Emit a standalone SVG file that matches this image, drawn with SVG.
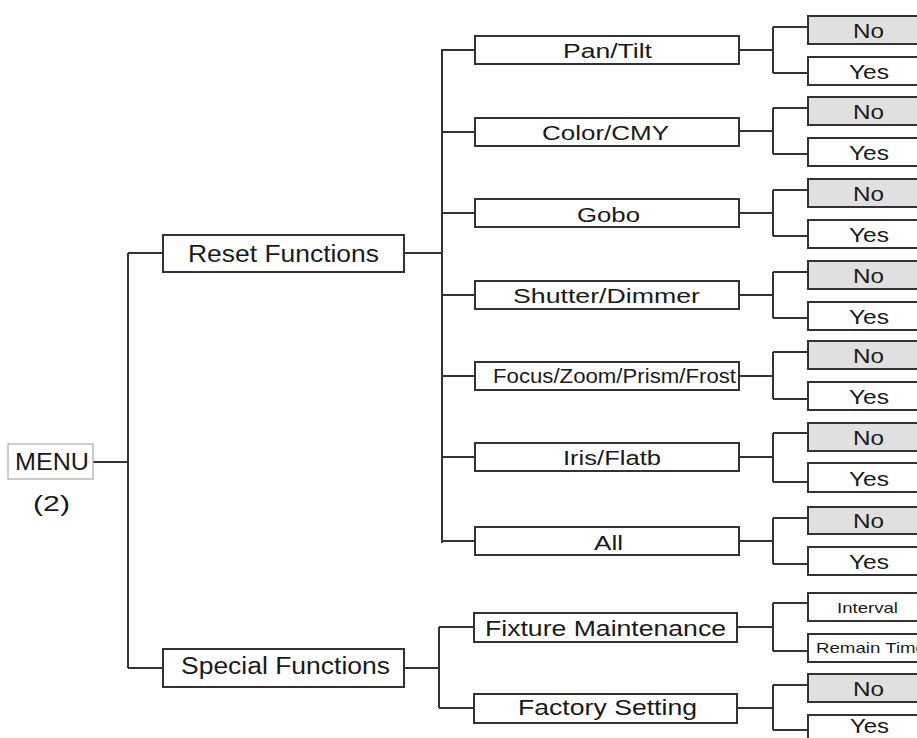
<svg xmlns="http://www.w3.org/2000/svg" width="917" height="738" viewBox="0 0 917 738">
<style>
.bx{fill:#fff;stroke:#333;stroke-width:2}
.gy{fill:#e0e0e0;stroke:#333;stroke-width:2}
.mn{fill:#fff;stroke:#aaa;stroke-width:1.2}
.t{font-family:"Liberation Sans",Arial,sans-serif;fill:#1a1a1a}
.l1{font-size:23px}
.l2{font-size:20px}
.l3{font-size:20px}
.sm{font-size:15px}
#conn path{fill:none;stroke:#333;stroke-width:2}
</style>
<rect width="917" height="738" fill="#fff"/>
<g id="conn">
<path d="M93,462H128M128,253V668M128,253H163M128,668H163"/>
<path d="M404,253H442M442,49V543M442,50H475M442,132H475M442,213H475M442,295H475M442,376H475M442,457H475M442,541H475"/>
<path d="M739,50H773M773,27V73M773,27H808M773,73H808"/>
<path d="M739,131H773M773,108V154M773,108H808M773,154H808"/>
<path d="M739,213H773M773,190V236M773,190H808M773,236H808"/>
<path d="M739,295H773M773,272V318M773,272H808M773,318H808"/>
<path d="M739,376H773M773,352V399M773,352H808M773,399H808"/>
<path d="M739,457H773M773,433V482M773,433H808M773,482H808"/>
<path d="M739,541H773M773,518V564M773,518H808M773,564H808"/>
<path d="M404,668H439M439,627V708M439,627H474M439,708H474"/>
<path d="M737,627H773M773,603V651M773,603H808M773,651H808"/>
<path d="M737,708H773M773,685V730M773,685H808M773,730H808"/>
</g>
<g id="menu"><rect class="mn" x="8" y="444" width="85" height="35"/><text class="t" x="15" y="470" font-size="24" textLength="74" lengthAdjust="spacingAndGlyphs">MENU</text><text class="t" x="33" y="511" font-size="22" textLength="37" lengthAdjust="spacingAndGlyphs">(2)</text></g>
<g id="reset"><rect class="bx" x="163" y="235" width="241" height="37"/><text class="t l1" x="188" y="262" textLength="191" lengthAdjust="spacingAndGlyphs">Reset Functions</text></g>
<g id="special"><rect class="bx" x="163" y="649" width="241" height="38"/><text class="t l1" x="181" y="674" textLength="209" lengthAdjust="spacingAndGlyphs">Special Functions</text></g>
<g id="pantilt"><rect class="bx" x="475" y="36" width="264" height="28"/><text class="t l2" x="563" y="57.5" textLength="89" lengthAdjust="spacingAndGlyphs">Pan/Tilt</text></g>
<g id="color"><rect class="bx" x="475" y="118" width="264" height="28"/><text class="t l2" x="542" y="140" textLength="127" lengthAdjust="spacingAndGlyphs">Color/CMY</text></g>
<g id="gobo"><rect class="bx" x="475" y="199" width="264" height="28"/><text class="t l2" x="577" y="222" textLength="63" lengthAdjust="spacingAndGlyphs">Gobo</text></g>
<g id="shutter"><rect class="bx" x="475" y="281" width="264" height="28"/><text class="t l2" x="513" y="303" textLength="187" lengthAdjust="spacingAndGlyphs">Shutter/Dimmer</text></g>
<g id="focus"><rect class="bx" x="475" y="362" width="264" height="28"/><text class="t l2" x="493" y="382.5" textLength="243" lengthAdjust="spacingAndGlyphs">Focus/Zoom/Prism/Frost</text></g>
<g id="iris"><rect class="bx" x="475" y="443" width="264" height="28"/><text class="t l2" x="563" y="465" textLength="98" lengthAdjust="spacingAndGlyphs">Iris/Flatb</text></g>
<g id="all"><rect class="bx" x="475" y="527" width="264" height="28"/><text class="t l2" x="594" y="550" textLength="29" lengthAdjust="spacingAndGlyphs">All</text></g>
<g id="fixture"><rect class="bx" x="474" y="613" width="263" height="29"/><text class="t" font-size="22" x="485" y="636" textLength="241" lengthAdjust="spacingAndGlyphs">Fixture Maintenance</text></g>
<g id="factory"><rect class="bx" x="474" y="694" width="263" height="29"/><text class="t" font-size="22" x="518" y="715" textLength="179" lengthAdjust="spacingAndGlyphs">Factory Setting</text></g>
<g id="pantilt-no"><rect class="gy" x="808" y="16" width="120" height="28"/><text class="t l3" x="853" y="38" textLength="31" lengthAdjust="spacingAndGlyphs">No</text></g>
<g id="pantilt-yes"><rect class="bx" x="808" y="57" width="120" height="28"/><text class="t l3" x="849" y="79" textLength="40" lengthAdjust="spacingAndGlyphs">Yes</text></g>
<g id="color-no"><rect class="gy" x="808" y="97" width="120" height="28"/><text class="t l3" x="853" y="119" textLength="31" lengthAdjust="spacingAndGlyphs">No</text></g>
<g id="color-yes"><rect class="bx" x="808" y="138" width="120" height="28"/><text class="t l3" x="849" y="160" textLength="40" lengthAdjust="spacingAndGlyphs">Yes</text></g>
<g id="gobo-no"><rect class="gy" x="808" y="179" width="120" height="28"/><text class="t l3" x="853" y="201" textLength="31" lengthAdjust="spacingAndGlyphs">No</text></g>
<g id="gobo-yes"><rect class="bx" x="808" y="220" width="120" height="28"/><text class="t l3" x="849" y="242" textLength="40" lengthAdjust="spacingAndGlyphs">Yes</text></g>
<g id="shutter-no"><rect class="gy" x="808" y="261" width="120" height="28"/><text class="t l3" x="853" y="283" textLength="31" lengthAdjust="spacingAndGlyphs">No</text></g>
<g id="shutter-yes"><rect class="bx" x="808" y="302" width="120" height="28"/><text class="t l3" x="849" y="324" textLength="40" lengthAdjust="spacingAndGlyphs">Yes</text></g>
<g id="focus-no"><rect class="gy" x="808" y="341" width="120" height="28"/><text class="t l3" x="853" y="363" textLength="31" lengthAdjust="spacingAndGlyphs">No</text></g>
<g id="focus-yes"><rect class="bx" x="808" y="382" width="120" height="28"/><text class="t l3" x="849" y="404" textLength="40" lengthAdjust="spacingAndGlyphs">Yes</text></g>
<g id="iris-no"><rect class="gy" x="808" y="423" width="120" height="28"/><text class="t l3" x="853" y="445" textLength="31" lengthAdjust="spacingAndGlyphs">No</text></g>
<g id="iris-yes"><rect class="bx" x="808" y="463" width="120" height="29"/><text class="t l3" x="849" y="486" textLength="40" lengthAdjust="spacingAndGlyphs">Yes</text></g>
<g id="all-no"><rect class="gy" x="808" y="507" width="120" height="27"/><text class="t l3" x="853" y="528" textLength="31" lengthAdjust="spacingAndGlyphs">No</text></g>
<g id="all-yes"><rect class="bx" x="808" y="547" width="120" height="28"/><text class="t l3" x="849" y="569" textLength="40" lengthAdjust="spacingAndGlyphs">Yes</text></g>
<g id="interval"><rect class="bx" x="808" y="593" width="120" height="28"/><text class="t sm" x="837" y="613" textLength="61" lengthAdjust="spacingAndGlyphs">Interval</text></g>
<g id="remain"><rect class="bx" x="808" y="634" width="120" height="28"/><text class="t sm" x="816" y="653" textLength="110" lengthAdjust="spacingAndGlyphs">Remain Time</text></g>
<g id="factory-no"><rect class="gy" x="808" y="674" width="120" height="28"/><text class="t l3" x="853" y="696" textLength="31" lengthAdjust="spacingAndGlyphs">No</text></g>
<g id="factory-yes"><rect class="bx" x="808" y="715" width="120" height="30"/><text class="t" font-size="20" x="850" y="733" textLength="39" lengthAdjust="spacingAndGlyphs">Yes</text></g>
</svg>
